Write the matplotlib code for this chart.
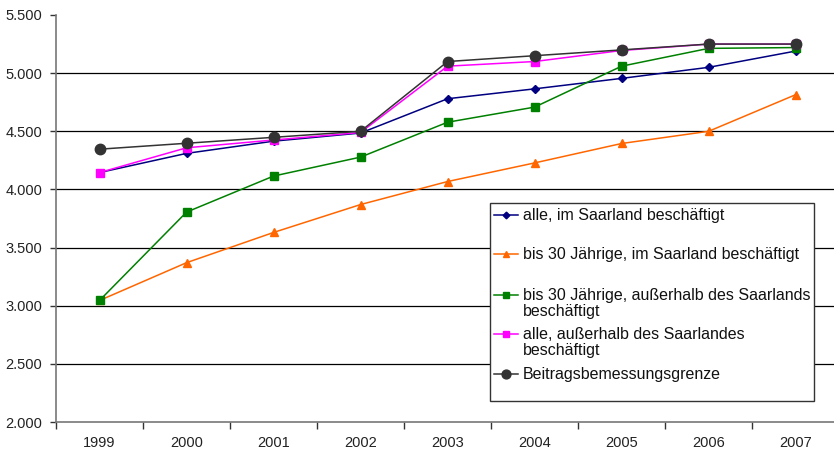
import matplotlib
matplotlib.use("Agg")
import matplotlib.pyplot as plt
from matplotlib.lines import Line2D
from matplotlib.patches import Rectangle
from matplotlib.ticker import FixedLocator, FuncFormatter

plt.rcParams["font.family"] = ["Liberation Sans", "DejaVu Sans"]

years = ["1999", "2000", "2001", "2002", "2003", "2004", "2005", "2006", "2007"]

alle_saarland = [4145, 4310, 4415, 4485, 4780, 4865, 4955, 5050, 5190]
u30_saarland = [3045, 3370, 3630, 3870, 4068, 4228, 4395, 4500, 4815]
u30_ausserhalb = [3045, 3805, 4115, 4278, 4578, 4708, 5060, 5213, 5220]
alle_ausserhalb = [4145, 4358, 4425, 4490, 5060, 5100, 5195, 5250, 5250]
bbg = [4346, 4397, 4448, 4500, 5100, 5150, 5200, 5250, 5250]

labels = [
    "alle, im Saarland beschäftigt",
    "bis 30 Jährige, im Saarland beschäftigt",
    "bis 30 Jährige, außerhalb des Saarlands\nbeschäftigt",
    "alle, außerhalb des Saarlandes\nbeschäftigt",
    "Beitragsbemessungsgrenze",
]

styles = [
    dict(color="#000080", marker="D", ms=4.0),
    dict(color="#FF6600", marker="^", ms=5.5),
    dict(color="#008000", marker="s", ms=5.5),
    dict(color="#FF00FF", marker="s", ms=5.5),
    dict(color="#333333", marker="o", ms=7.5),
]
series = [alle_saarland, u30_saarland, u30_ausserhalb, alle_ausserhalb, bbg]

W, H = 834, 453
AX_L, AX_R, AX_T, AX_B = 56, 834, 15, 422

fig = plt.figure(figsize=(W / 100, H / 100), dpi=100)
ax = fig.add_axes([AX_L / W, (H - AX_B) / H, (AX_R - AX_L) / W, (AX_B - AX_T) / H])

x = list(range(len(years)))
for vals, st in zip(series, styles):
    ax.plot(x, vals, lw=1.1, mec=st["color"], mfc=st["color"], **st, zorder=3)

ax.set_xlim(-0.5, 8.44)
ax.set_ylim(2000, 5500)

# horizontal grid lines
for yv in [2500, 3000, 3500, 4000, 4500, 5000]:
    ax.axhline(yv, color="black", lw=0.9, zorder=1)

ax.set_yticks([2000, 2500, 3000, 3500, 4000, 4500, 5000, 5500])
ax.yaxis.set_major_formatter(FuncFormatter(lambda v, p: f"{int(v) // 1000}.{int(v) % 1000:03d}"))

ax.set_xticks(x)
ax.set_xticklabels(years)
ax.xaxis.set_minor_locator(FixedLocator([i - 0.5 for i in range(len(years) + 1)]))
ax.tick_params(axis="x", which="major", length=0, pad=10, labelsize=10.5, colors="#222222")
ax.tick_params(axis="x", which="minor", length=5, width=1, color="#333333", direction="out")
ax.tick_params(axis="y", which="major", length=4, width=1, color="#333333", direction="out",
               pad=6, labelsize=10.5, labelcolor="#222222")

for side in ["top", "right"]:
    ax.spines[side].set_visible(False)
for side in ["left", "bottom"]:
    ax.spines[side].set_color("#777777")
    ax.spines[side].set_linewidth(1.2)


def to_ax(px, py):
    """Pixel position in the figure -> axes fraction."""
    return ((px - AX_L) / (AX_R - AX_L), (AX_B - py) / (AX_B - AX_T))


# legend box
x0, y0 = to_ax(490, 401)
x1, y1 = to_ax(814, 203)
ax.add_patch(Rectangle((x0, y0), x1 - x0, y1 - y0, transform=ax.transAxes,
                       facecolor="white", edgecolor="#333333", lw=1.0, zorder=5))

entry_y = [215, 254, 295, 334, 374]
for lab, st, py in zip(labels, styles, entry_y):
    hx0, hy = to_ax(494, py)
    hx1, _ = to_ax(518, py)
    hm, _ = to_ax(506, py)
    ax.add_line(Line2D([hx0, hx1], [hy, hy], transform=ax.transAxes, color=st["color"],
                       lw=1.1, zorder=6))
    ax.add_line(Line2D([hm], [hy], transform=ax.transAxes, color=st["color"],
                       marker=st["marker"], ms=st["ms"] * 0.85, mec=st["color"],
                       mfc=st["color"], zorder=6))
    tx, ty = to_ax(523, py - 7)
    ax.text(tx, ty, lab, transform=ax.transAxes, fontsize=11.5, va="top", ha="left",
            color="#111111", linespacing=1.12, zorder=7)

fig.savefig("out.png", dpi=100)
